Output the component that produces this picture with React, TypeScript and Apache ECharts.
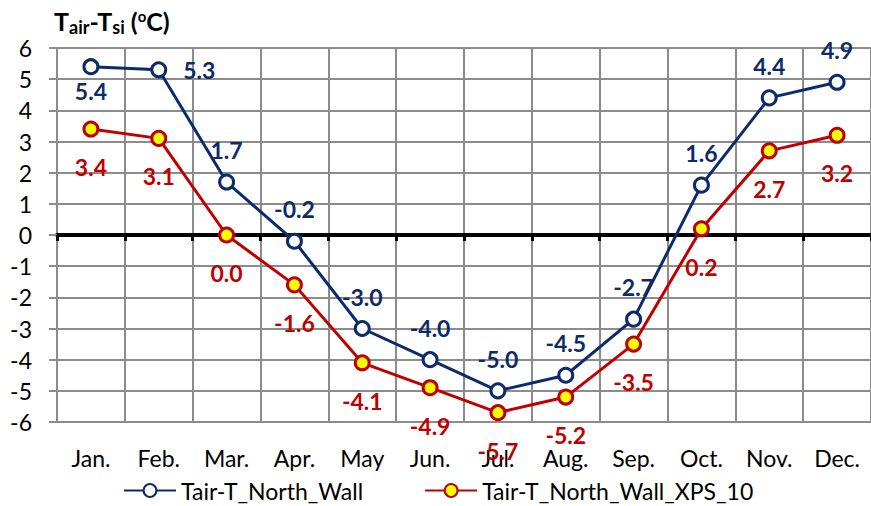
import React, { useEffect, useRef } from "react";
import * as echarts from "echarts";

const months = ["Jan.", "Feb.", "Mar.", "Apr.", "May", "Jun.", "Jul.", "Aug.", "Sep.", "Oct.", "Nov.", "Dec."];
const northWall = [5.4, 5.3, 1.7, -0.2, -3.0, -4.0, -5.0, -4.5, -2.7, 1.6, 4.4, 4.9];
const northWallXps10 = [3.4, 3.1, 0.0, -1.6, -4.1, -4.9, -5.7, -5.2, -3.5, 0.2, 2.7, 3.2];
const seriesNames = ["Tair-T_North_Wall", "Tair-T_North_Wall_XPS_10"];
const yMin = -6;
const yMax = 6;

const FONT = "Lato, 'Open Sans', sans-serif";
const BLUE = "#0d2a6b";
const RED = "#c00000";
const GRID = "#8c8c8c";
const FS = 23;

export default function App() {
  const ref = useRef<HTMLDivElement>(null);
  useEffect(() => {
    if (!ref.current) return;
    const chart = echarts.init(ref.current, undefined, { renderer: "svg" });
    const blueData = northWall.map((v, i) => {
      let label: any = { position: "top", distance: 12 };
      if (i === 0) label = { position: "bottom", distance: 4 };
      if (i === 1) label = { position: "right", distance: 16 };
      return { value: v, label };
    });
    const redData = northWallXps10.map((v) => ({ value: v }));
    chart.setOption({
      animation: false,
      textStyle: { fontFamily: FONT },
      grid: { left: 57, right: -3, top: 48, bottom: 84 },
      graphic: [
        {
          type: "text",
          left: 54,
          top: 8,
          style: {
            text: "{m|T}{s|air}{m|-T}{s|si}{m| (}{p|o}{m|C)}",
            fill: "#000",
            rich: {
              m: { fontSize: 25, fontWeight: "bold", fontFamily: FONT, fill: "#000" },
              s: { fontSize: 18, fontWeight: "bold", fontFamily: FONT, fill: "#000", padding: [12, 0, 0, 0] },
              p: { fontSize: 15, fontWeight: "bold", fontFamily: FONT, fill: "#000", padding: [0, 0, 10, 0] },
            },
          },
        },
      ],
      legend: {
        left: 123,
        top: 479,
        padding: 0,
        itemWidth: 52,
        itemHeight: 16,
        itemGap: 61,
        textStyle: { fontSize: FS, fontFamily: FONT, color: "#000" },
        data: seriesNames,
      },
      xAxis: [
        {
          type: "category",
          data: months,
          position: "bottom",
          boundaryGap: true,
          axisLine: { show: false, onZero: false },
          axisTick: { show: false },
          axisLabel: { fontSize: FS, color: "#000", margin: 24, interval: 0, fontFamily: FONT },
          splitLine: { show: true, interval: 0, lineStyle: { color: GRID, width: 2 } },
        },
        {
          type: "category",
          data: months,
          position: "top",
          boundaryGap: true,
          axisLine: { show: true, onZero: true, lineStyle: { color: "#000", width: 4 } },
          axisTick: { show: true, inside: true, length: 6, interval: 0, lineStyle: { color: "#000", width: 3 } },
          axisLabel: { show: false },
          splitLine: { show: false },
        },
      ],
      yAxis: {
        type: "value",
        min: yMin,
        max: yMax,
        interval: 1,
        axisLine: { show: true, lineStyle: { color: GRID, width: 2 } },
        axisTick: { show: true, length: 8, lineStyle: { color: GRID, width: 2 } },
        axisLabel: { fontSize: FS, color: "#000", margin: 25, fontFamily: FONT },
        splitLine: { show: true, lineStyle: { color: GRID, width: 2 } },
      },
      series: [
        {
          name: seriesNames[0],
          type: "line",
          data: blueData,
          symbol: "circle",
          symbolSize: 14,
          z: 3,
          lineStyle: { color: BLUE, width: 3 },
          itemStyle: { color: "#ffffff", borderColor: BLUE, borderWidth: 3 },
          label: {
            show: true,
            fontSize: FS,
            fontWeight: "bold",
            color: BLUE,
            fontFamily: FONT,
            formatter: (p: any) => Number(p.value).toFixed(1),
          },
        },
        {
          name: seriesNames[1],
          type: "line",
          data: redData,
          symbol: "circle",
          symbolSize: 14,
          z: 2,
          lineStyle: { color: RED, width: 3 },
          itemStyle: { color: "#ffff00", borderColor: RED, borderWidth: 3 },
          label: {
            show: true,
            position: "bottom",
            distance: 18,
            fontSize: FS,
            fontWeight: "bold",
            color: RED,
            fontFamily: FONT,
            formatter: (p: any) => Number(p.value).toFixed(1),
          },
        },
      ],
    });
    return () => chart.dispose();
  }, []);
  return (
    <div
      ref={ref}
      style={{ position: "fixed", left: 0, top: 0, width: 871, height: 506, background: "#fff" }}
    />
  );
}
